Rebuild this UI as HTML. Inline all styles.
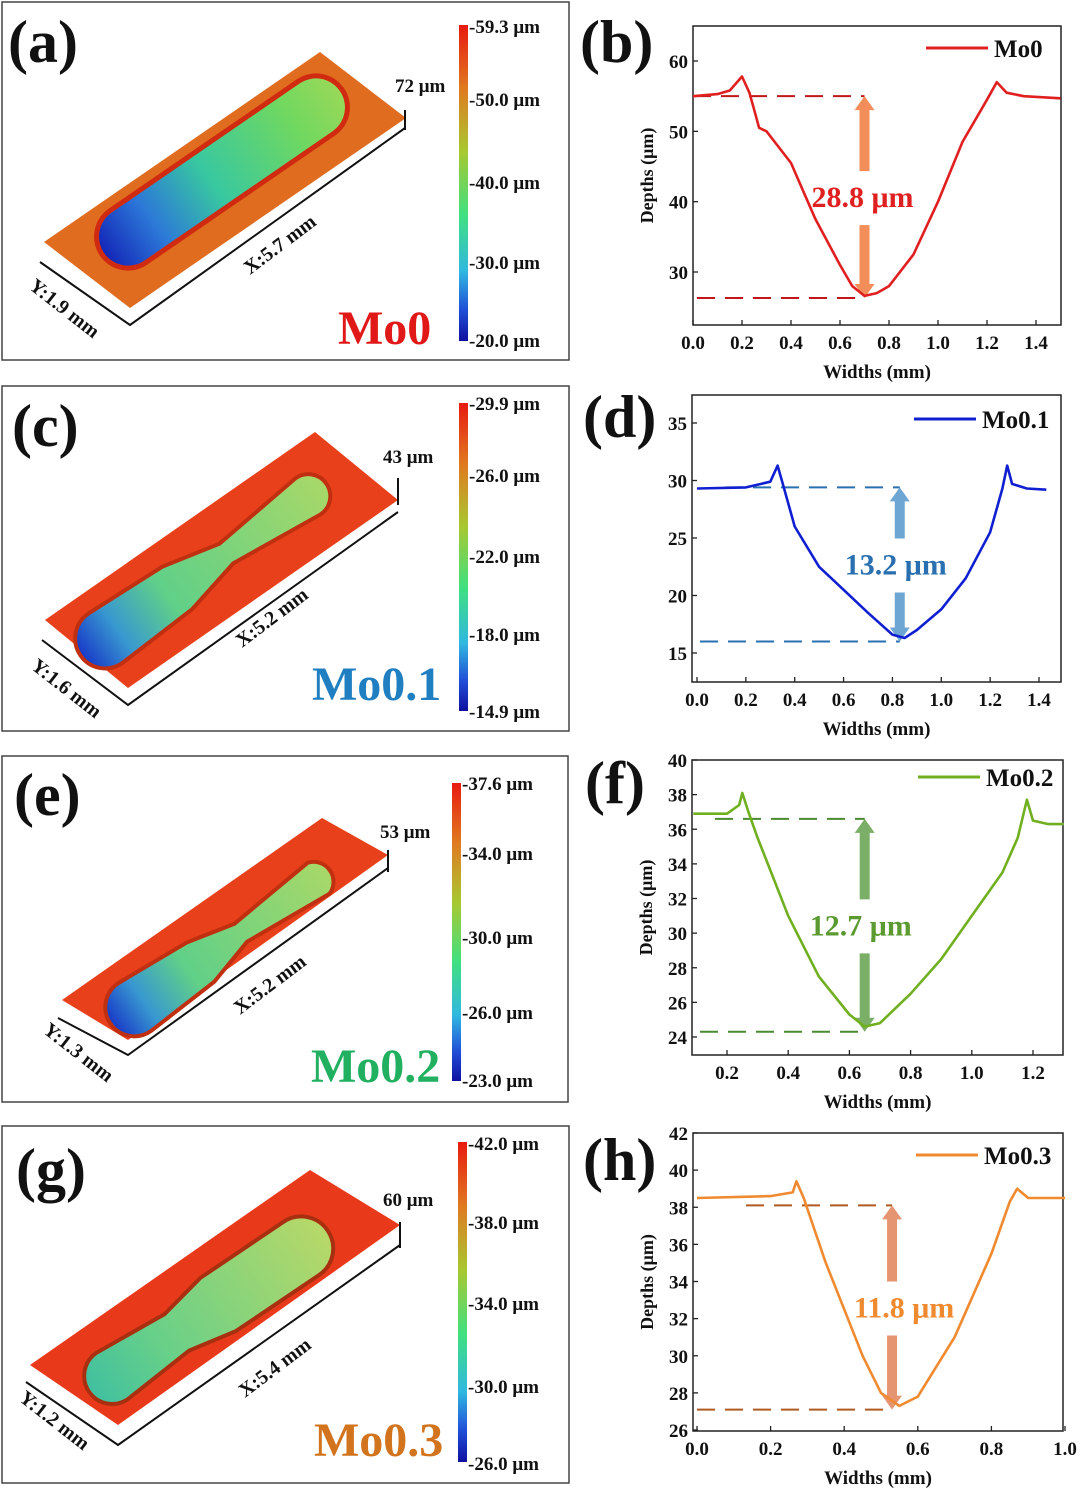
<!DOCTYPE html>
<html><head><meta charset="utf-8">
<style>
body{margin:0;background:#fff;}
svg text{font-family:"Liberation Serif",serif;font-weight:bold;}
</style></head>
<body>
<svg id="fig" width="1080" height="1491" viewBox="0 0 1080 1491" xmlns="http://www.w3.org/2000/svg">
<defs>
<linearGradient id="cbar" x1="0" y1="0" x2="0" y2="1">
<stop offset="0" stop-color="#e81a10"/><stop offset="0.2" stop-color="#e07a20"/><stop offset="0.4" stop-color="#a8c830"/><stop offset="0.6" stop-color="#40e080"/><stop offset="0.78" stop-color="#30b8e0"/><stop offset="0.9" stop-color="#2050d8"/><stop offset="1" stop-color="#1010a0"/>
</linearGradient>
<linearGradient id="groove" x1="0" y1="0" x2="1" y2="0">
<stop offset="0" stop-color="#1428b8"/><stop offset="0.2" stop-color="#2c78d8"/><stop offset="0.45" stop-color="#38c8a0"/><stop offset="0.8" stop-color="#70d860"/><stop offset="1" stop-color="#98d858"/>
</linearGradient>
<linearGradient id="groove2" x1="0" y1="0" x2="1" y2="0">
<stop offset="0" stop-color="#1838c8"/><stop offset="0.15" stop-color="#3898d0"/><stop offset="0.35" stop-color="#60d088"/><stop offset="1" stop-color="#a8d868"/>
</linearGradient>
<linearGradient id="groove3" x1="0" y1="0" x2="1" y2="0">
<stop offset="0" stop-color="#40c0a0"/><stop offset="0.3" stop-color="#68d088"/><stop offset="1" stop-color="#b8d868"/>
</linearGradient>
</defs>

<!-- LEFT PANELS -->
<g>
<rect x="2" y="2" width="567" height="358" fill="none" stroke="#444" stroke-width="1.5"/>
<text x="8" y="62" font-size="60" fill="#111">(a)</text>
<polygon points="44,242 320,52 406,118 130,308" fill="#e06c20"/>
<g transform="translate(222,172) rotate(-34.5)"><rect x="-148" y="-34" width="296" height="68" rx="34" fill="#d02a10"/><rect x="-143" y="-29" width="286" height="58" rx="29" fill="url(#groove)"/></g>
<polyline points="40,262 130,325 405,128" fill="none" stroke="#111" stroke-width="2"/>
<line x1="405" y1="110" x2="405" y2="130" stroke="#111" stroke-width="2"/>
<text x="395" y="92" font-size="19" fill="#111">72 μm</text>
<text transform="translate(250,275) rotate(-37)" font-size="20" fill="#111">X:5.7 mm</text>
<text transform="translate(28,288) rotate(38)" font-size="20" fill="#111">Y:1.9 mm</text>
<text x="338" y="344" font-size="48" fill="#e01818">Mo0</text>
<rect x="459" y="25" width="9" height="316" fill="url(#cbar)"/>
<g font-size="19" fill="#111"><text x="469" y="33">-59.3 μm</text><text x="469" y="106">-50.0 μm</text><text x="469" y="189">-40.0 μm</text><text x="469" y="269">-30.0 μm</text><text x="469" y="347">-20.0 μm</text></g>
</g>

<g>
<rect x="2" y="386" width="567" height="345" fill="none" stroke="#444" stroke-width="1.5"/>
<text x="12" y="446" font-size="60" fill="#111">(c)</text>
<polygon points="45,620 315,432 398,500 128,688" fill="#e8401a"/>
<g transform="translate(210,565) rotate(-35)"><path d="M-128,-30 A30,30 0 0 0 -128,30 L-40,26 L20,12 L120,22 A22,22 0 0 0 120,-22 L20,-12 L-40,-26 Z" fill="url(#groove2)" stroke="#c03010" stroke-width="4"/></g>
<polyline points="42,640 128,705 398,512" fill="none" stroke="#111" stroke-width="2"/>
<line x1="398" y1="478" x2="398" y2="505" stroke="#111" stroke-width="2"/>
<text x="383" y="463" font-size="19" fill="#111">43 μm</text>
<text transform="translate(242,648) rotate(-37)" font-size="20" fill="#111">X:5.2 mm</text>
<text transform="translate(30,668) rotate(38)" font-size="20" fill="#111">Y:1.6 mm</text>
<text x="312" y="700" font-size="48" fill="#1f7fc0">Mo0.1</text>
<rect x="459" y="403" width="9" height="308" fill="url(#cbar)"/>
<g font-size="19" fill="#111"><text x="469" y="410">-29.9 μm</text><text x="469" y="482">-26.0 μm</text><text x="469" y="563">-22.0 μm</text><text x="469" y="641">-18.0 μm</text><text x="469" y="718">-14.9 μm</text></g>
</g>

<g>
<rect x="2" y="756" width="566" height="346" fill="none" stroke="#444" stroke-width="1.5"/>
<text x="14" y="815" font-size="60" fill="#111">(e)</text>
<polygon points="62,1000 322,818 388,855 128,1040" fill="#e8401a"/>
<g transform="translate(225,945) rotate(-35)"><path d="M-110,-30 A28,28 0 0 0 -110,28 L-30,24 L20,10 L115,18 A20,20 0 0 0 115,-20 L20,-12 L-30,-24 Z" fill="url(#groove2)" stroke="#c03010" stroke-width="4"/></g>
<polyline points="58,1018 128,1055 388,868" fill="none" stroke="#111" stroke-width="2"/>
<line x1="388" y1="850" x2="388" y2="872" stroke="#111" stroke-width="2"/>
<text x="380" y="838" font-size="19" fill="#111">53 μm</text>
<text transform="translate(240,1015) rotate(-37)" font-size="20" fill="#111">X:5.2 mm</text>
<text transform="translate(42,1032) rotate(38)" font-size="20" fill="#111">Y:1.3 mm</text>
<text x="311" y="1082" font-size="48" fill="#20b060">Mo0.2</text>
<rect x="452" y="783" width="9" height="298" fill="url(#cbar)"/>
<g font-size="19" fill="#111"><text x="462" y="790">-37.6 μm</text><text x="462" y="860">-34.0 μm</text><text x="462" y="944">-30.0 μm</text><text x="462" y="1019">-26.0 μm</text><text x="462" y="1087">-23.0 μm</text></g>
</g>

<g>
<rect x="2" y="1126" width="567" height="357" fill="none" stroke="#444" stroke-width="1.5"/>
<text x="16" y="1190" font-size="60" fill="#111">(g)</text>
<polygon points="30,1365 310,1170 400,1225 118,1425" fill="#e83a1a"/>
<g transform="translate(210,1310) rotate(-34)"><path d="M-118,-28 A28,28 0 0 0 -118,28 L-40,22 L10,32 L110,32 A32,32 0 0 0 110,-32 L10,-32 L-40,-22 Z" fill="url(#groove3)" stroke="#a83010" stroke-width="4"/></g>
<polyline points="26,1382 118,1445 400,1245" fill="none" stroke="#111" stroke-width="2"/>
<line x1="400" y1="1222" x2="400" y2="1248" stroke="#111" stroke-width="2"/>
<text x="383" y="1206" font-size="19" fill="#111">60 μm</text>
<text transform="translate(245,1398) rotate(-37)" font-size="20" fill="#111">X:5.4 mm</text>
<text transform="translate(18,1400) rotate(38)" font-size="20" fill="#111">Y:1.2 mm</text>
<text x="314" y="1456" font-size="48" fill="#d2731e">Mo0.3</text>
<rect x="458" y="1142" width="9" height="320" fill="url(#cbar)"/>
<g font-size="19" fill="#111"><text x="468" y="1150">-42.0 μm</text><text x="468" y="1229">-38.0 μm</text><text x="468" y="1310">-34.0 μm</text><text x="468" y="1393">-30.0 μm</text><text x="468" y="1470">-26.0 μm</text></g>
</g>

<g id="charts"></g>
</svg>
<script>
// ---- chart data ----
const bX=[0,0.1,0.15,0.2,0.23,0.25,0.27,0.3,0.4,0.5,0.6,0.65,0.7,0.75,0.8,0.9,1.0,1.1,1.2,1.24,1.28,1.35,1.5];
const bY=[55,55.3,55.8,57.8,55.5,53,50.5,50,45.5,37.5,31,28,26.6,27,28,32.5,40,48.5,54.5,57,55.5,55,54.7];
const dX=[0.0,0.2,0.3,0.33,0.35,0.4,0.5,0.6,0.7,0.8,0.85,0.9,1.0,1.1,1.2,1.25,1.27,1.29,1.35,1.43];
const dY=[29.3,29.4,29.9,31.3,29.8,26,22.5,20.5,18.5,16.6,16.3,17,18.8,21.5,25.5,29.3,31.3,29.7,29.3,29.2];
const fX=[0.09,0.2,0.24,0.25,0.27,0.3,0.4,0.5,0.6,0.65,0.7,0.8,0.9,1.0,1.1,1.15,1.18,1.2,1.25,1.3];
const fY=[36.9,36.9,37.4,38.1,37,35.5,31,27.5,25.3,24.6,24.8,26.5,28.5,31,33.5,35.5,37.7,36.5,36.3,36.3];
const hX=[0,0.2,0.26,0.27,0.29,0.35,0.4,0.45,0.5,0.55,0.6,0.7,0.8,0.85,0.87,0.9,1.0];
const hY=[38.5,38.6,38.8,39.4,38.5,35,32.5,30,28,27.3,27.8,31,35.5,38.3,39,38.5,38.5];
const bTicksX=[0,0.2,0.4,0.6,0.8,1.0,1.2,1.4], bTicksY=[30,40,50,60];
const dTicksX=[0,0.2,0.4,0.6,0.8,1.0,1.2,1.4], dTicksY=[15,20,25,30,35];
const fTicksX=[0.2,0.4,0.6,0.8,1.0,1.2], fTicksY=[24,26,28,30,32,34,36,38,40];
const hTicksX=[0,0.2,0.4,0.6,0.8,1.0], hTicksY=[26,28,30,32,34,36,38,40,42];
const bRange=[55,26.3], dRange=[29.4,16.0], fRange=[36.6,24.3], hRange=[38.1,27.1];
const labels=["Mo0","Mo0.1","Mo0.2","Mo0.3"];
const annots=["28.8 μm","13.2 μm","12.7 μm","11.8 μm"];

const NS="http://www.w3.org/2000/svg";
const root=document.getElementById('charts');
function el(tag,attrs,parent){const e=document.createElementNS(NS,tag);for(const k in attrs)e.setAttribute(k,attrs[k]);(parent||root).appendChild(e);return e;}
function fmt(v,dec){return v.toFixed(dec);}

function chart(c){
  const g=el('g',{});
  
  
  const sx=v=>c.px0+(v-c.x0)*(c.px1-c.px0)/(c.x1-c.x0);
  const sy=v=>c.py0+(v-c.y0)*(c.py1-c.py0)/(c.y1-c.y0);
  const pl=el('text',{x:c.L[0],y:c.L[1],'font-size':60,fill:'#111'},g);pl.textContent=c.letter;
  
  
  const fr=el('rect',{x:c.fx0,y:c.fy0,width:c.fx1-c.fx0,height:c.fy1-c.fy0,fill:'none',stroke:'#222','stroke-width':1.5},g);
  
  
  c.tx.forEach(t=>{const x=sx(t);el('line',{x1:x,y1:c.fy1,x2:x,y2:c.fy1-5,stroke:'#222','stroke-width':1.3},g);
    const tt=el('text',{x:x,y:c.fy1+24,'font-size':19,'text-anchor':'middle',fill:'#111'},g);tt.textContent=fmt(t,1);
    
    });
  c.ty.forEach(t=>{const y=sy(t);el('line',{x1:c.fx0,y1:y,x2:c.fx0+5,y2:y,stroke:'#222','stroke-width':1.3},g);
    const tt=el('text',{x:c.fx0-5,y:y+7,'font-size':19,'text-anchor':'end',fill:'#111'},g);tt.textContent=String(t);
    
    });
  const xt=el('text',{x:(c.fx0+c.fx1)/2,y:c.fy1+53,'font-size':19,'text-anchor':'middle',fill:'#111'},g);xt.textContent='Widths (mm)';
  
  
  if(c.ytitle){const yt=el('text',{transform:`translate(${c.fx0-40},${(c.fy0+c.fy1)/2}) rotate(-90)`,'font-size':18,'text-anchor':'middle',fill:'#111'},g);yt.textContent='Depths (μm)';
    
    }
  const [top,bot]=c.range;
  const ax=sx(c.arrowX);
  const d1=el('line',{x1:c.dash0[0],y1:sy(top),x2:ax,y2:sy(top),stroke:c.dcol,'stroke-width':2,'stroke-dasharray':'18,10'},g);
  
  
  const d2=el('line',{x1:c.dash0[1],y1:sy(bot),x2:ax,y2:sy(bot),stroke:c.dcol,'stroke-width':2,'stroke-dasharray':'18,10'},g);
  
  
  const yT=sy(top),yB=sy(bot),mid=(yT+yB)/2;
  const a1=el('path',{d:`M${ax},${yT} l-10,14 h5 V${mid-26} h10 V${yT+14} h5 Z`,fill:c.acol,opacity:0.8},g);
  
  
  const a2=el('path',{d:`M${ax},${yB} l-10,-14 h5 V${mid+28} h10 V${yB-14} h5 Z`,fill:c.acol,opacity:0.8},g);
  
  
  const at=el('text',{x:ax+c.annDx,y:mid+10,'font-size':30,'text-anchor':'middle',fill:c.tcol},g);at.textContent=c.ann;
  
  
  const pts=c.X.map((x,i)=>sx(x).toFixed(1)+','+sy(c.Y[i]).toFixed(1)).join(' ');
  const ln=el('polyline',{points:pts,fill:'none',stroke:c.col,'stroke-width':2.6,'stroke-linejoin':'round'},g);
  
  
  const lg=el('g',{},g);
  
  
  el('line',{x1:c.leg[0],y1:c.leg[1],x2:c.leg[0]+62,y2:c.leg[1],stroke:c.col,'stroke-width':3},lg);
  const lt=el('text',{x:c.leg[0]+68,y:c.leg[1]+9,'font-size':25,fill:'#111'},lg);lt.textContent=c.label;
}
chart({name:'chart-b',letter:'(b)',L:[580,62],fx0:693,fx1:1061,fy0:26,fy1:325,x0:0,x1:1.4,px0:693,px1:1036,y0:60,y1:30,py0:61,py1:272,
  tx:bTicksX,ty:bTicksY,X:bX,Y:bY,range:bRange,arrowX:0.7,dash0:[693,697],col:'#e02020',dcol:'#c01818',acol:'#f07030',tcol:'#e02020',ann:annots[0],annDx:-2,leg:[926,48],label:labels[0],ytitle:true});
chart({name:'chart-d',letter:'(d)',L:[583,437],fx0:692,fx1:1061,fy0:395,fy1:682,x0:0,x1:1.4,px0:697,px1:1039,y0:35,y1:15,py0:423,py1:653,
  tx:dTicksX,ty:dTicksY,X:dX,Y:dY,range:dRange,arrowX:0.83,dash0:[725,700],col:'#1020d0',dcol:'#2a70b0',acol:'#4a90c8',tcol:'#2a70b0',ann:annots[1],annDx:-4,leg:[914,419],label:labels[1],ytitle:false});
chart({name:'chart-f',letter:'(f)',L:[585,803],fx0:692,fx1:1063,fy0:760,fy1:1055,x0:0.2,x1:1.2,px0:727,px1:1033,y0:40,y1:24,py0:760,py1:1037,
  tx:fTicksX,ty:fTicksY,X:fX,Y:fY,range:fRange,arrowX:0.65,dash0:[715,700],col:'#70b020',dcol:'#4a8a30',acol:'#5a9a40',tcol:'#5a9a30',ann:annots[2],annDx:-4,leg:[918,777],label:labels[2],ytitle:true});
chart({name:'chart-h',letter:'(h)',L:[583,1180],fx0:693,fx1:1063,fy0:1133,fy1:1431,x0:0,x1:1.0,px0:697,px1:1065,y0:42,y1:26,py0:1133,py1:1430,
  tx:hTicksX,ty:hTicksY,X:hX,Y:hY,range:hRange,arrowX:0.53,dash0:[746,697],col:'#f08a30',dcol:'#b05a20',acol:'#e07a50',tcol:'#f08a30',ann:annots[3],annDx:12,leg:[916,1155],label:labels[3],ytitle:true});
</script>
</body></html>
